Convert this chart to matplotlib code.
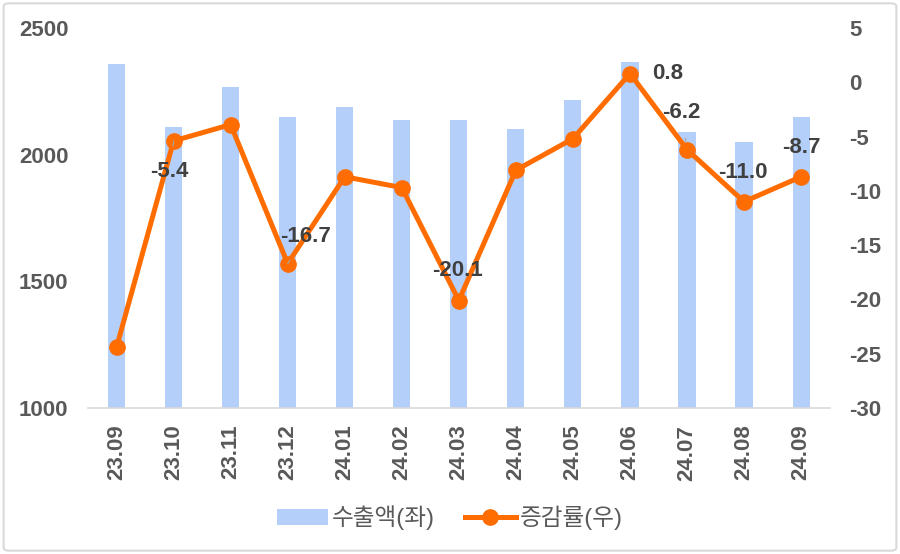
import matplotlib.pyplot as plt
from matplotlib.patches import FancyBboxPatch

# data
months = ["23.09", "23.10", "23.11", "23.12", "24.01", "24.02", "24.03",
          "24.04", "24.05", "24.06", "24.07", "24.08", "24.09"]
exports = [2358, 2109, 2267, 2149, 2188, 2137, 2137, 2101, 2216, 2366, 2089, 2050, 2149]
growth = [-24.4, -5.4, -3.9, -16.7, -8.7, -9.7, -20.1, -8.1, -5.2, 0.8, -6.2, -11.0, -8.7]

# labelled points: index -> pixel offset of the label from the point
label_offsets = {1: (-4, -31), 3: (18, 27), 6: (-1, 30), 9: (38, 0),
                 10: (-6, 37), 11: (-1, 29), 12: (0, 29)}
leader = {1, 3, 10}

BAR_C = "#b4cffa"
LINE_C = "#ff6d00"
TXT_C = "#595959"
LBL_C = "#404040"
FS = 16

plt.rcParams["font.family"] = ["Liberation Sans", "Noto Sans CJK KR", "DejaVu Sans"]
plt.rcParams["axes.unicode_minus"] = False

fig = plt.figure(figsize=(9.0, 5.54), dpi=100)
fig.patches.append(FancyBboxPatch((0.004, 0.006), 0.992, 0.988,
                                  boxstyle="round,pad=0,rounding_size=0.006",
                                  transform=fig.transFigure, fill=False,
                                  edgecolor="#d9d9d9", linewidth=1.5))

ax = fig.add_axes([0.0978, 0.2635, 0.824, 0.686])
x = list(range(len(months)))
bars = ax.bar(x, exports, width=0.3, color=BAR_C, label="수출액(좌)", zorder=1)
ax.set_ylim(1000, 2500)
ax.set_yticks([1000, 1500, 2000, 2500])
ax.set_xlim(-0.5, len(months) - 0.5)
ax.set_xticks(x)
ax.set_xticklabels(months, rotation=90, fontsize=FS, fontweight="bold", color=TXT_C)
ax.tick_params(axis="x", length=0, pad=12)
ax.tick_params(axis="y", length=0, pad=14, labelsize=FS, labelcolor=TXT_C)
for t in ax.get_yticklabels():
    t.set_fontweight("bold")
for s in ("top", "right", "left"):
    ax.spines[s].set_visible(False)
ax.spines["bottom"].set_color("#d9d9d9")
ax.spines["bottom"].set_linewidth(1.2)

ax2 = ax.twinx()
line, = ax2.plot(x, growth, color=LINE_C, linewidth=3.6, marker="o",
                 markersize=11, label="증감률(우)", zorder=3)
ax2.set_ylim(-30, 5)
ax2.set_yticks(range(-30, 6, 5))
ax2.tick_params(axis="y", length=0, pad=14, labelsize=FS, labelcolor=TXT_C)
for t in ax2.get_yticklabels():
    t.set_fontweight("bold")
for s in ("top", "right", "left", "bottom"):
    ax2.spines[s].set_visible(False)

for i, (dx, dy) in label_offsets.items():
    arrow = dict(arrowstyle="-", color="#a6a6a6", lw=0.8, shrinkA=9, shrinkB=6) if i in leader else None
    ax2.annotate(f"{growth[i]:.1f}", xy=(i, growth[i]), xytext=(dx, dy),
                 textcoords="offset pixels", ha="center", va="center",
                 fontsize=FS, fontweight="bold", color=LBL_C,
                 arrowprops=arrow, zorder=4)

leg = fig.legend(handles=[bars, line], loc="center", bbox_to_anchor=(0.5, 0.065),
                 ncol=2, frameon=False, fontsize=17, handlelength=2.15,
                 columnspacing=1.25, handletextpad=0.2)
for t in leg.get_texts():
    t.set_color(TXT_C)
    t.set_fontweight("medium")

fig.savefig("out.png", dpi=100)
